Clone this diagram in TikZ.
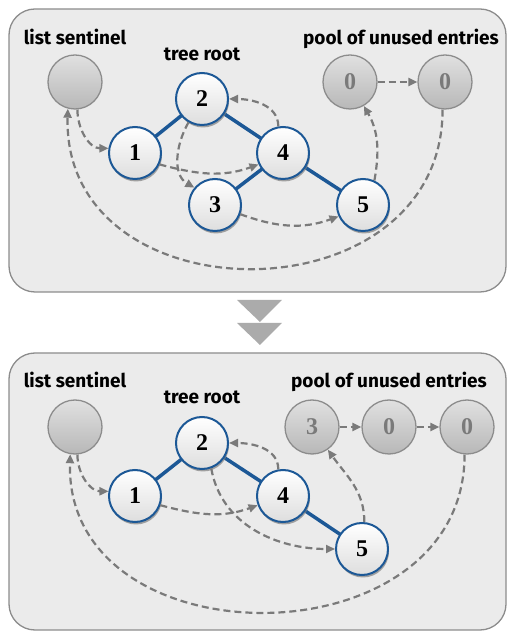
\documentclass[tikz,border=0pt]{standalone}
\usepackage{fontspec}
\setmainfont{Fira Sans}
\newfontfamily\numfont{Liberation Serif}
\usetikzlibrary{arrows.meta,shadows}
\definecolor{treeblue}{RGB}{28,88,150}
\definecolor{panelgray}{RGB}{235,235,235}
\definecolor{rimgray}{RGB}{140,140,140}
\definecolor{linkgray}{RGB}{122,122,122}
\tikzset{
	panel/.style={draw=rimgray, line width=1.3pt, fill=panelgray, rounded corners=26pt},
	treenode/.style={circle, draw=treeblue, line width=2pt, minimum size=52pt, inner sep=0pt,
		top color=white, bottom color=black!13,
		drop shadow={shadow xshift=1pt, shadow yshift=-2.5pt, opacity=0.7},
		font=\numfont\bfseries\fontsize{24}{24}\selectfont},
	poolnode/.style={circle, draw=rimgray, line width=1.3pt, minimum size=54pt, inner sep=0pt,
		top color=black!12, bottom color=black!28, text=black!52,
		font=\numfont\bfseries\fontsize{24}{24}\selectfont},
	caption/.style={anchor=base, font=\bfseries\fontsize{19}{20}\selectfont},
	treeedge/.style={draw=treeblue, line width=3.5pt},
	link/.style={draw=linkgray, line width=2.2pt, dash pattern=on 7pt off 4pt,
		-{Triangle[length=9pt,width=8pt]}},
	chevron/.style={fill=black!33}
}

\begin{document}
\begin{tikzpicture}[x=1pt, y=1pt]
			%%%%% START %%%%%
			\useasboundingbox (0, 0) rectangle (508, 632);
			
			\draw[panel] (9, 623) rectangle (506, 340);
			\draw[panel] (9, 279) rectangle (506, 2);
			
			\fill[chevron] (237, 332) -- (282, 332) -- (260, 310) -- cycle;
			\fill[chevron] (237, 309) -- (282, 309) -- (260, 287) -- cycle;
			
			%%%%% BEFORE %%%%%
			\node[caption] (capsA) at (75, 587) {list sentinel};
			\node[caption] (caprA) at (202, 571) {tree root};
			\node[caption] (cappA) at (401, 587) {pool of unused entries};
			
			\node[poolnode] (s1) at (75, 550) {};
			\node[poolnode] (p1) at (350, 550) {0};
			\node[poolnode] (p2) at (445, 550) {0};
			
			\draw[treeedge] (202, 533) -- (135, 479);
			\draw[treeedge] (202, 533) -- (283, 479);
			\draw[treeedge] (283, 479) -- (215, 427);
			\draw[treeedge] (283, 479) -- (363, 427);
			
			\node[treenode] (n2) at (202, 533) {2};
			\node[treenode] (n1) at (135, 479) {1};
			\node[treenode] (n4) at (283, 479) {4};
			\node[treenode] (n3) at (215, 427) {3};
			\node[treenode] (n5) at (363, 427) {5};
			
			\draw[link] (s1.-85) to[out=-90, in=180] (n1.170);
			\draw[link] (n1.-25) to[out=-15, in=200] (n4.205);
			\draw[link] (n2.240) to[out=-120, in=150] (n3.140);
			\draw[link] (n4.100) to[out=90, in=0] (n2.east);
			\draw[link] (n3.-20) to[out=-20, in=200] (n5.205);
			\draw[link] (n5.65) to[out=80, in=-60] (p1.-60);
			\draw[link] (p1) -- (p2);
			\draw[link] (p2.-95) .. controls +(0, -212) and +(-6, -212) .. (s1.-105);
			
			%%%%% AFTER %%%%%
			\node[caption] (capsB) at (75, 244) {list sentinel};
			\node[caption] (caprB) at (202, 228) {tree root};
			\node[caption] (cappB) at (389, 244) {pool of unused entries};
			
			\node[poolnode] (s2) at (75, 205) {};
			\node[poolnode] (q1) at (312, 205) {3};
			\node[poolnode] (q2) at (389, 205) {0};
			\node[poolnode] (q3) at (467, 205) {0};
			
			\draw[treeedge] (202, 189) -- (135, 136);
			\draw[treeedge] (202, 189) -- (283, 136);
			\draw[treeedge] (283, 136) -- (362, 83);
			
			\node[treenode] (m2) at (202, 189) {2};
			\node[treenode] (m1) at (135, 136) {1};
			\node[treenode] (m4) at (283, 136) {4};
			\node[treenode] (m5) at (362, 83) {5};
			
			\draw[link] (s2.-85) to[out=-90, in=180] (m1.170);
			\draw[link] (m1.-20) to[out=-15, in=200] (m4.200);
			\draw[link] (m2.-70) to[out=-80, in=180] (m5.west);
			\draw[link] (m4.100) to[out=90, in=0] (m2.east);
			\draw[link] (m5.85) to[out=90, in=-55] (q1.-55);
			\draw[link] (q1) -- (q2);
			\draw[link] (q2) -- (q3);
			\draw[link] (q3.-95) .. controls +(0, -210) and +(-6, -210) .. (s2.-100);
			
			%%%%% END %%%%%
\end{tikzpicture}
\end{document}
